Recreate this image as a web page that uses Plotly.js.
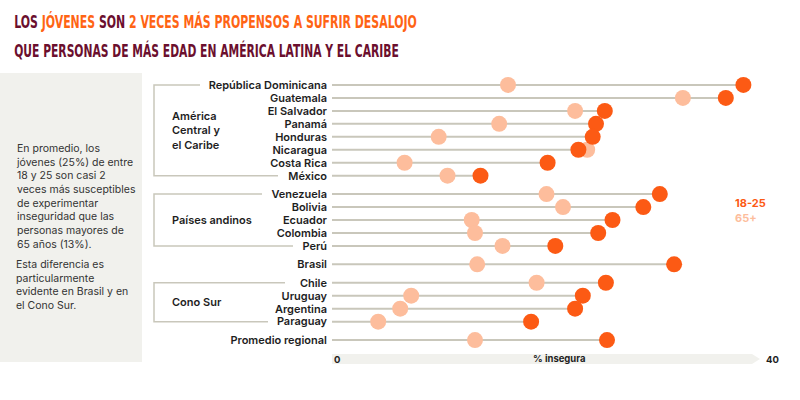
<!DOCTYPE html>
<html>
<head>
<meta charset="utf-8">
<script src="https://cdn.plot.ly/plotly-3.0.1.min.js"></script>
<style>html,body{margin:0;padding:0;background:#fff;}#chart{width:800px;height:400px;}</style>
</head>
<body>
<div id="chart"></div>
<script>
// ---- data ----
const countries = ["República Dominicana","Guatemala","El Salvador","Panamá","Honduras","Nicaragua","Costa Rica","México","Venezuela","Bolivia","Ecuador","Colombia","Perú","Brasil","Chile","Uruguay","Argentina","Paraguay","Promedio regional"];
const groups = ["ac","ac","ac","ac","ac","ac","ac","ac","an","an","an","an","an","br","cs","cs","cs","cs","pr"];
const young = [37.4,35.8,24.8,24.0,23.7,22.4,19.6,13.5,29.8,28.3,25.5,24.2,20.3,31.1,24.9,22.8,22.1,18.1,25.0];
const old   = [16.0,31.9,22.1,15.2,9.7,23.2,6.6,10.5,19.5,21.0,12.7,13.0,15.5,13.2,18.6,7.2,6.2,4.2,13.0];
const groupNames = {ac:"América<br>Central y<br>el Caribe", an:"Países andinos", cs:"Cono Sur"};
const seriesNames = ["18-25","65+"];

// ---- layout helpers ----
const C_YOUNG = "#fc5a14", C_OLD = "#fdbd9c", C_LINE = "#c9c7bb", C_DARK = "#1e1e1e";
const ypos = [];
let p = 0;
countries.forEach((c,i)=>{ if(i>0){ p += (groups[i]!==groups[i-1]) ? 1.42 : 1; } ypos.push(p); });
const PL = 332, PW = 440, PT = 72, PH = 281;
const px = x => (x-PL)/PW;
const py = y => (PT+PH-y)/PH;

// connector lines
const lx = [], ly = [];
countries.forEach((c,i)=>{ lx.push(0, Math.max(young[i],old[i]), null); ly.push(ypos[i], ypos[i], null); });

const traces = [
  {x:lx, y:ly, mode:"lines", line:{color:C_LINE, width:2}, hoverinfo:"skip", showlegend:false, cliponaxis:false},
  {x:old, y:ypos, mode:"markers", name:seriesNames[1], marker:{color:C_OLD, size:16}, cliponaxis:false, showlegend:false},
  {x:young, y:ypos, mode:"markers", name:seriesNames[0], marker:{color:C_YOUNG, size:16}, cliponaxis:false, showlegend:false}
];

const shapes = [
  {type:"rect", xref:"paper", yref:"paper", x0:px(0), x1:px(142), y0:py(73), y1:py(362), fillcolor:"#f1f1ed", line:{width:0}, layer:"below"},
  {type:"path", xref:"paper", yref:"paper", layer:"below",
   path:`M ${px(332)} ${py(354)} L ${px(752)} ${py(354)} L ${px(760)} ${py(359)} L ${px(752)} ${py(364)} L ${px(332)} ${py(364)} Z`,
   fillcolor:"#f1f1ed", line:{width:0}}
];
const annotations = [];
// group brackets
const bracketEnds = {ac:[200,278], an:[262,293], cs:[285,268]};
const bx = 154;
["ac","an","cs"].forEach(g=>{
  const idx = groups.map((v,i)=>v===g?i:-1).filter(i=>i>=0);
  const y0 = ypos[idx[0]], y1 = ypos[idx[idx.length-1]];
  const e = bracketEnds[g];
  shapes.push({type:"path", xref:"paper", yref:"y", line:{color:C_LINE, width:1.5},
    path:`M ${px(e[0])} ${y0} L ${px(bx)} ${y0} L ${px(bx)} ${y1} L ${px(e[1])} ${y1}`});
  annotations.push({xref:"paper", yref:"y", x:px(170), y:(y0+y1)/2, xanchor:"left", yanchor:"middle", align:"left",
    text:groupNames[g], showarrow:false, font:{family:"Inter, Roboto, sans-serif", size:11, weight:600, color:C_DARK}});
});
// title
const MAROON = "#6b0f2e", ORANGE = "#ff6414";
const tFont = {family:"'DejaVu Sans Condensed', sans-serif", size:18, weight:700, color:MAROON};
annotations.push({xref:"paper", yref:"paper", x:px(12), y:py(22), xanchor:"left", yanchor:"middle", showarrow:false, font:tFont,
  text:`LOS <span style="color:${ORANGE}">JÓVENES</span> SON <span style="color:${ORANGE}">2 VECES MÁS PROPENSOS A SUFRIR DESALOJO</span>`});
annotations.push({xref:"paper", yref:"paper", x:px(12), y:py(50), xanchor:"left", yanchor:"middle", showarrow:false, font:tFont,
  text:"QUE PERSONAS DE MÁS EDAD EN AMÉRICA LATINA Y EL CARIBE"});
// left panel text
const pFont = {family:"Inter, Roboto, sans-serif", size:10.5, color:"#333"};
annotations.push({xref:"paper", yref:"paper", x:px(14), y:py(140), xanchor:"left", yanchor:"top", align:"left", showarrow:false, font:pFont,
  text:"En promedio, los<br>jóvenes (25%) de entre<br>18 y 25 son casi 2<br>veces más susceptibles<br>de experimentar<br>inseguridad que las<br>personas mayores de<br>65 años (13%)."});
annotations.push({xref:"paper", yref:"paper", x:px(14), y:py(256), xanchor:"left", yanchor:"top", align:"left", showarrow:false, font:pFont,
  text:"Esta diferencia es<br>particularmente<br>evidente en Brasil y en<br>el Cono Sur."});
// legend
annotations.push({xref:"paper", yref:"paper", x:px(733), y:py(203), xanchor:"left", yanchor:"middle", showarrow:false,
  text:seriesNames[0], font:{family:"Inter, Roboto, sans-serif", size:11, weight:700, color:C_YOUNG}});
annotations.push({xref:"paper", yref:"paper", x:px(733), y:py(218), xanchor:"left", yanchor:"middle", showarrow:false,
  text:seriesNames[1], font:{family:"Inter, Roboto, sans-serif", size:11, weight:700, color:C_OLD}});
// x axis labels
const aFont = {family:"Inter, Roboto, sans-serif", size:9.5, weight:700, color:C_DARK};
annotations.push({xref:"x", yref:"paper", x:0, y:py(359), xanchor:"left", yanchor:"middle", showarrow:false, text:"0", font:aFont});
annotations.push({xref:"x", yref:"paper", x:20.7, y:py(359), xanchor:"center", yanchor:"middle", showarrow:false, text:"% insegura", font:aFont});
annotations.push({xref:"x", yref:"paper", x:40, y:py(359), xanchor:"center", yanchor:"middle", showarrow:false, text:"40", font:aFont});

const layout = {
  width:800, height:400,
  margin:{l:PL, r:800-PL-PW, t:PT, b:400-PT-PH},
  paper_bgcolor:"#fff", plot_bgcolor:"rgba(0,0,0,0)",
  xaxis:{range:[0,40], showgrid:false, zeroline:false, showticklabels:false, ticks:"", showline:false, fixedrange:true},
  yaxis:{range:[ypos[ypos.length-1]+1, -1], showgrid:false, zeroline:false, showline:false, ticks:"",
    tickvals:ypos, ticktext:countries, ticklabelstandoff:4,
    tickfont:{family:"Inter, Roboto, sans-serif", size:11, weight:600, color:C_DARK}, fixedrange:true},
  shapes:shapes, annotations:annotations, showlegend:false
};
Plotly.newPlot("chart", traces, layout, {displayModeBar:false, staticPlot:true}).then(gd=>{
  // condense the title lines horizontally to the reference's narrow lettering
  gd.querySelectorAll(".annotation-text").forEach(t=>{
    const s = t.textContent;
    let w = 0;
    if (s.startsWith("LOS ")) w = 403;
    else if (s.startsWith("QUE PERSONAS")) w = 385;
    if (!w) return;
    const bb = t.getBBox();
    const sx = w / bb.width;
    const prev = t.getAttribute("transform") || "";
    t.setAttribute("transform", `${prev} translate(${bb.x} 0) scale(${sx} 1) translate(${-bb.x} 0)`);
  });
});
</script>
</body>
</html>
